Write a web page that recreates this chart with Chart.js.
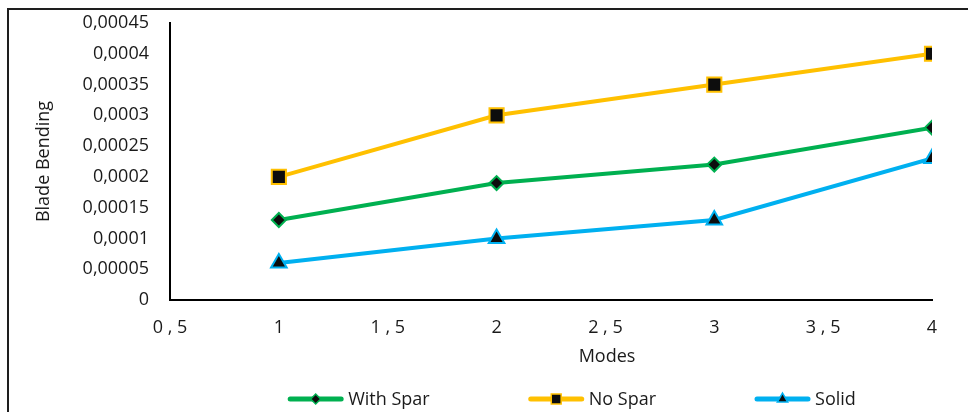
<!DOCTYPE html>
<html>

<head>
    <meta charset="utf-8">
    <title>Blade Bending</title>
</head>

<style>
    body {
        margin: 0;
        background: #ffffff;
        font-family: "Open Sans", sans-serif;
    }

    .frame {
        position: absolute;
        left: 7px;
        top: 8px;
        width: 980px;
        height: 420px;
        border-top: 2px solid #1e1e1e;
        border-left: 2px solid #1e1e1e;
    }

    .chart-container {
        position: absolute;
        left: 0;
        top: 0;
        width: 968px;
        height: 412px;
    }
</style>

<body>
    <div class="frame"></div>
    <div class="chart-container">
        <canvas id="lineChart" width="968" height="412"></canvas>
    </div>

    <script src="https://cdn.jsdelivr.net/npm/chart.js"></script>

    <script>
        // data
        const modes = [1, 2, 3, 4];
        const withSpar = [0.00013, 0.00019, 0.00022, 0.00028];
        const noSpar = [0.0002, 0.0003, 0.00035, 0.0004];
        const solid = [0.00006, 0.0001, 0.00013, 0.00023];
        const seriesNames = ['With Spar', 'No Spar', 'Solid'];
        const xTitle = 'Modes';
        const yTitle = 'Blade Bending';

        const FONT = '"Open Sans", sans-serif';
        const TEXT = '#1a1a1a';

        function pts(values) {
            return modes.map(function (m, i) { return { x: m, y: values[i] }; });
        }

        // legend + x title drawn by hand (line with marker in the middle)
        const extras = {
            id: 'extras',
            afterDraw: function (chart) {
                const ctx = chart.ctx;
                ctx.save();
                ctx.font = '18px ' + FONT;
                ctx.fillStyle = TEXT;
                ctx.textBaseline = 'middle';

                ctx.textAlign = 'center';
                ctx.fillText(xTitle, 607, 357);

                ctx.textAlign = 'left';
                const lineLen = 55, gap = 5, spacing = 99;
                const items = chart.data.datasets.map(function (ds) {
                    return { ds: ds, w: lineLen + gap + ctx.measureText(ds.label).width };
                });
                let total = spacing * (items.length - 1);
                items.forEach(function (it) { total += it.w; });
                let x = 572 - total / 2;
                const y = 399;
                items.forEach(function (it) {
                    const ds = it.ds;
                    ctx.strokeStyle = ds.borderColor;
                    ctx.lineWidth = 5;
                    ctx.lineCap = 'round';
                    ctx.beginPath();
                    ctx.moveTo(x + 2, y);
                    ctx.lineTo(x + lineLen - 2, y);
                    ctx.stroke();
                    ctx.fillStyle = ds.pointBackgroundColor;
                    ctx.strokeStyle = ds.pointBorderColor;
                    ctx.lineWidth = 1.5;
                    Chart.helpers.drawPoint(ctx, {
                        pointStyle: ds.pointStyle,
                        radius: ds.legendRadius,
                        borderWidth: 1.5,
                        rotation: 0
                    }, x + lineLen / 2, y);
                    ctx.fillStyle = TEXT;
                    ctx.fillText(ds.label, x + lineLen + gap, y + 1);
                    x += it.w + spacing;
                });
                ctx.restore();
            }
        };

        function fmt(v) {
            return String(Number(v.toFixed(6))).replace('.', ',');
        }

        document.addEventListener('DOMContentLoaded', function () {
            const ctx = document.getElementById('lineChart').getContext('2d');

            const chart = new Chart(ctx, {
                type: 'line',
                data: {
                    datasets: [{
                        label: seriesNames[0],
                        data: pts(withSpar),
                        borderColor: '#00B050',
                        borderWidth: 4,
                        pointStyle: 'rectRot',
                        pointRadius: 7,
                        legendRadius: 5,
                        pointBackgroundColor: '#0d0d0d',
                        pointBorderColor: '#00B050',
                        pointBorderWidth: 2
                    }, {
                        label: seriesNames[1],
                        data: pts(noSpar),
                        borderColor: '#FFC000',
                        borderWidth: 4,
                        pointStyle: 'rect',
                        pointRadius: 10,
                        legendRadius: 7,
                        pointBackgroundColor: '#0d0d0d',
                        pointBorderColor: '#FFC000',
                        pointBorderWidth: 2
                    }, {
                        label: seriesNames[2],
                        data: pts(solid),
                        borderColor: '#00B0F0',
                        borderWidth: 4,
                        pointStyle: 'triangle',
                        pointRadius: 9,
                        legendRadius: 6,
                        pointBackgroundColor: '#0d0d0d',
                        pointBorderColor: '#00B0F0',
                        pointBorderWidth: 2
                    }]
                },
                options: {
                    responsive: false,
                    animation: false,
                    layout: {
                        padding: { top: 23, right: 36, bottom: 0, left: 0 }
                    },
                    plugins: {
                        legend: { display: false },
                        tooltip: { enabled: false }
                    },
                    scales: {
                        x: {
                            type: 'linear',
                            min: 0.5,
                            max: 4,
                            grid: { display: false, drawTicks: false },
                            border: { display: true, color: '#000000', width: 2 },
                            ticks: {
                                stepSize: 0.5,
                                padding: 17,
                                color: TEXT,
                                font: { family: FONT, size: 18 },
                                maxRotation: 0,
                                callback: function (v) {
                                    return String(v).replace('.', ' , ');
                                }
                            },
                            afterFit: function (scale) { scale.height = 112; }
                        },
                        y: {
                            min: 0,
                            max: 0.00045,
                            grid: { display: false, drawTicks: false },
                            border: { display: true, color: '#000000', width: 2 },
                            ticks: {
                                stepSize: 0.00005,
                                padding: 21,
                                color: TEXT,
                                font: { family: FONT, size: 18 },
                                callback: function (v) { return fmt(v); }
                            },
                            title: {
                                display: true,
                                text: yTitle,
                                color: TEXT,
                                font: { family: FONT, size: 18 },
                                padding: { top: 33, bottom: 0 }
                            },
                            afterFit: function (scale) {
                                scale.width = 170;
                                scale.paddingTop = 11;
                                scale.paddingBottom = 11;
                            }
                        }
                    }
                },
                plugins: [extras]
            });
        });
    </script>

</body>

</html>
